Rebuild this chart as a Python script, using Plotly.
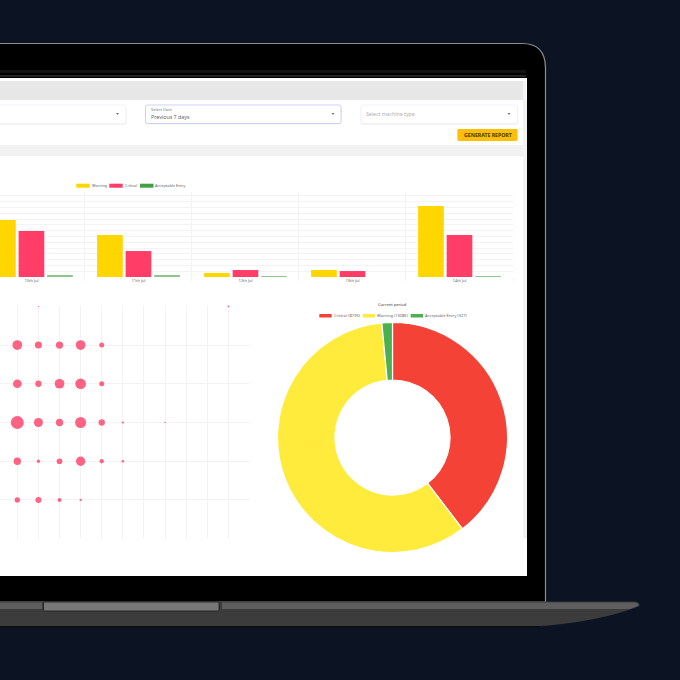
import plotly.graph_objects as go

# ---------- data ----------
days = ["10th Jul", "11th Jul", "12th Jul", "13th Jul", "14th Jul"]
warning = [3930, 2900, 280, 480, 4900]
critical = [3170, 1790, 480, 410, 2900]
acceptable = [80, 100, 60, 0, 60]

bubble_x = [0, 1, 2, 3, 4, 5,
            0, 1, 2, 3, 4, 5,
            0, 1, 2, 3, 4, 5, 6, 8,
            1, 2, 3, 4, 5, 6,
            0, 1, 2, 3, 4,
            2, 11]
bubble_y = [5, 5, 5, 5, 5, 5,
            4, 4, 4, 4, 4, 4,
            3, 3, 3, 3, 3, 3, 3, 3,
            2, 2, 2, 2, 2, 2,
            1, 1, 1, 1, 1,
            6, 6]
bubble_size = [7, 9.7, 7, 7.3, 9.7, 5,
               10, 8.7, 6.3, 9.7, 10.7, 5,
               7, 13, 9, 7.3, 11, 6.3, 2.2, 1.5,
               7.3, 3.3, 5.7, 9.3, 4.3, 2.5,
               7, 5.3, 6, 4, 2.3,
               1.2, 1.8]

period_names = ["Critical", "Warning", "Acceptable Entry"]
period_values = [8795, 13086, 327]

# ---------- colours ----------
BG = "#0c1323"
YEL = "#ffd600"
RED = "#ff3d67"
GRN = "#43a047"
GRID = "#f3f3f3"
P = 680.0


def X(v):
    return v / P


def Y(v):
    return 1 - v / P


def rect(x0, y0, x1, y1, fill, line=None, lw=1):
    return dict(type="rect", xref="paper", yref="paper", layer="below",
                x0=X(x0), x1=X(x1), y0=Y(y1), y1=Y(y0), fillcolor=fill,
                line=dict(color=line or "rgba(0,0,0,0)", width=lw if line else 0))


def path(points, fill, line=None, lw=1):
    parts = []
    for p in points:
        cmd = p[0]
        nums = p[1:]
        coords = []
        for i in range(0, len(nums), 2):
            coords.append(f"{X(nums[i]):.5f},{Y(nums[i + 1]):.5f}")
        parts.append(cmd + " " + " ".join(coords))
    d = " ".join(parts)
    return dict(type="path", xref="paper", yref="paper", layer="below", path=d,
                fillcolor=fill, line=dict(color=line or "rgba(0,0,0,0)", width=lw if line else 0))


def rrect(x0, y0, x1, y1, r, fill, line=None, lw=1):
    return path([("M", x0 + r, y0), ("L", x1 - r, y0), ("Q", x1, y0, x1, y0 + r),
                 ("L", x1, y1 - r), ("Q", x1, y1, x1 - r, y1), ("L", x0 + r, y1),
                 ("Q", x0, y1, x0, y1 - r), ("L", x0, y0 + r), ("Q", x0, y0, x0 + r, y0)],
                fill, line, lw)


def text(x, y, s, size=5, color="#666666", anchor="left", bold=False):
    return dict(xref="paper", yref="paper", x=X(x), y=Y(y), text=f"<b>{s}</b>" if bold else s,
                showarrow=False, xanchor=anchor, yanchor="middle",
                font=dict(family="Noto Sans", size=size, color=color),
                borderpad=0, borderwidth=0)


def arrow(x, y):
    return path([("M", x - 1.5, y - 1), ("L", x + 1.5, y - 1), ("L", x, y + 1), ("L", x - 1.5, y - 1)], "#777777")


shapes = [
    # laptop lid
    path([("M", -2, 43.5), ("L", 522, 43.5), ("Q", 545.5, 43.5, 545.5, 68),
          ("L", 545.5, 602), ("L", -2, 602), ("L", -2, 43.5)], "#000000", "#8e8e8e", 1.2),
    rect(0, 70, 526, 73, "#141414"),
    rect(0, 75, 526, 77, "#242424"),
    # laptop base
    path([("M", -2, 601.5), ("L", 635, 601.5), ("Q", 640, 602, 639.5, 606),
          ("Q", 600, 622, 535, 626.5), ("L", -2, 626.5), ("L", -2, 601.5)], "#3c3c3c"),
    path([("M", 222, 602.5), ("L", 634, 602.5), ("Q", 639, 603, 638, 606),
          ("L", 630, 609), ("L", 222, 609), ("L", 222, 602.5)], "#5e5e5e"),
    rrect(43.5, 602, 219, 611, 1, "#777777", "#1a1a1a", 0.8),
    rect(-2, 602.5, 42, 609, "#5e5e5e"),
    rect(-2, 626, 540, 627, "#0a0a0a"),
    # screen
    rect(-2, 78, 527, 576, "#ffffff"),
    rect(-2, 81, 523, 100, "#e7e7e7"),
    rect(523, 81, 526, 100, "#f4f4f4"),
    rect(523, 100, 527, 538, "#f3f3f3"),
    rect(-2, 145, 523, 157, "#f1f1f1"),
    rrect(-8, 100, 523, 145, 5, "#ffffff"),
    path([("M", -8, 161), ("Q", -8, 156, -3, 156), ("L", 518, 156), ("Q", 523, 156, 523, 161),
          ("L", 523, 576), ("L", -8, 576), ("L", -8, 161)], "#ffffff"),
    # filters
    rrect(-8, 106, 126.5, 124.5, 2, "#ececec"),
    rrect(-8, 105, 126, 123.5, 2, "#ffffff", "#eeeefb", 0.8),
    rrect(145.5, 106, 341.5, 124.5, 2, "#ececec"),
    rrect(145.5, 105, 341, 123.5, 2, "#ffffff", "#c9cdf4", 0.9),
    rrect(360.8, 106, 518, 124.5, 2, "#ececec"),
    rrect(360.8, 105, 517.6, 123.5, 2, "#ffffff", "#eeeefb", 0.8),
    arrow(117.5, 114), arrow(333, 114), arrow(509, 114),
    rrect(457.3, 129, 517.6, 141, 1.5, "#ffbf08"),
    # bar chart key
    rect(76.3, 183.7, 89.7, 187.7, YEL),
    rect(109.3, 183.7, 122.7, 187.7, RED),
    rect(140, 183.7, 153.5, 187.7, GRN),
    # doughnut key
    rect(319.3, 314, 331.7, 317.5, "#f44336"),
    rect(362.7, 314, 375, 317.5, "#ffeb3b"),
    rect(410.7, 314, 423, 317.5, "#4caf50"),
]

annotations = [
    text(151, 109.8, "Select Date", 4, "#777777"),
    text(151, 117.3, "Previous 7 days", 5.3, "#666666"),
    text(366, 114, "Select machine type", 5.2, "#b0b0b0"),
    text(487.5, 134.8, "GENERATE REPORT", 5.2, "#4a3800", "center", True),
    text(91.5, 185.5, "Warning", 3.8),
    text(125, 185.5, "Critical", 3.8),
    text(155.3, 185.5, "Acceptable Entry", 3.9),
    text(392.5, 304, "Current period", 4.1, "#333333", "center"),
    text(333.8, 315.8, f"{period_names[0]} ({period_values[0]})", 4.1),
    text(377.3, 315.8, f"{period_names[1]} ({period_values[1]})", 4.0),
    text(425.3, 315.8, f"{period_names[2]} ({period_values[2]})", 4.0),
]

fig = go.Figure()
fig.add_bar(x=days, y=warning, name="Warning", marker=dict(color=YEL, line_width=0), xaxis="x", yaxis="y")
fig.add_bar(x=days, y=critical, name="Critical", marker=dict(color=RED, line_width=0), xaxis="x", yaxis="y")
fig.add_bar(x=days, y=acceptable, name="Acceptable Entry", marker=dict(color="#8cc68e", line_width=0), xaxis="x", yaxis="y")
fig.add_scatter(x=bubble_x, y=bubble_y, mode="markers", name="Activity", xaxis="x2", yaxis="y2", cliponaxis=False,
                marker=dict(size=bubble_size, sizemode="diameter", color="#ff6384", opacity=1, line_width=0))
fig.add_pie(labels=period_names, values=period_values, hole=0.5, sort=False, direction="clockwise", rotation=0,
            textinfo="none", marker=dict(colors=["#f44336", "#ffeb3b", "#4caf50"], line=dict(color="#ffffff", width=1.2)),
            domain=dict(x=[X(392.5 - 115), X(392.5 + 115)], y=[Y(437.5 + 115), Y(437.5 - 115)]))

fig.update_layout(
    width=680, height=680, autosize=False,
    margin=dict(l=0, r=0, t=0, b=0, pad=0),
    paper_bgcolor=BG, plot_bgcolor="rgba(0,0,0,0)",
    showlegend=False, barmode="group", bargap=0.2, bargroupgap=0.1,
    shapes=shapes, annotations=annotations,
    xaxis=dict(domain=[0, X(513)], type="category", range=[-0.294, 4.5], tickson="boundaries",
               showgrid=True, gridcolor=GRID, gridwidth=1, ticks="outside", ticklen=3, tickcolor=GRID,
               tickfont=dict(family="Noto Sans", size=4, color="#666666"), showline=False, zeroline=False,
               tickangle=0),
    yaxis=dict(domain=[Y(277), Y(192)], range=[0, 5862], dtick=400, showgrid=True, gridcolor=GRID, gridwidth=1,
               showticklabels=False, zeroline=False, showline=False, ticks=""),
    xaxis2=dict(domain=[0, X(249.5)], range=[0.18, 12], tickvals=list(range(1, 13)), anchor="y2", showgrid=True,
                gridcolor=GRID, gridwidth=1, showticklabels=False, zeroline=False, showline=False, ticks=""),
    yaxis2=dict(domain=[Y(538.7), Y(306.3)], range=[0, 6], tickvals=list(range(1, 7)), anchor="x2", showgrid=True,
                gridcolor=GRID, gridwidth=1, showticklabels=False, zeroline=False, showline=False, ticks=""),
)

fig.write_html("out.html", config=dict(displayModeBar=False, responsive=False),
               post_script="document.body.style.margin='0';document.body.style.overflow='hidden';document.body.style.background='" + BG + "';")
